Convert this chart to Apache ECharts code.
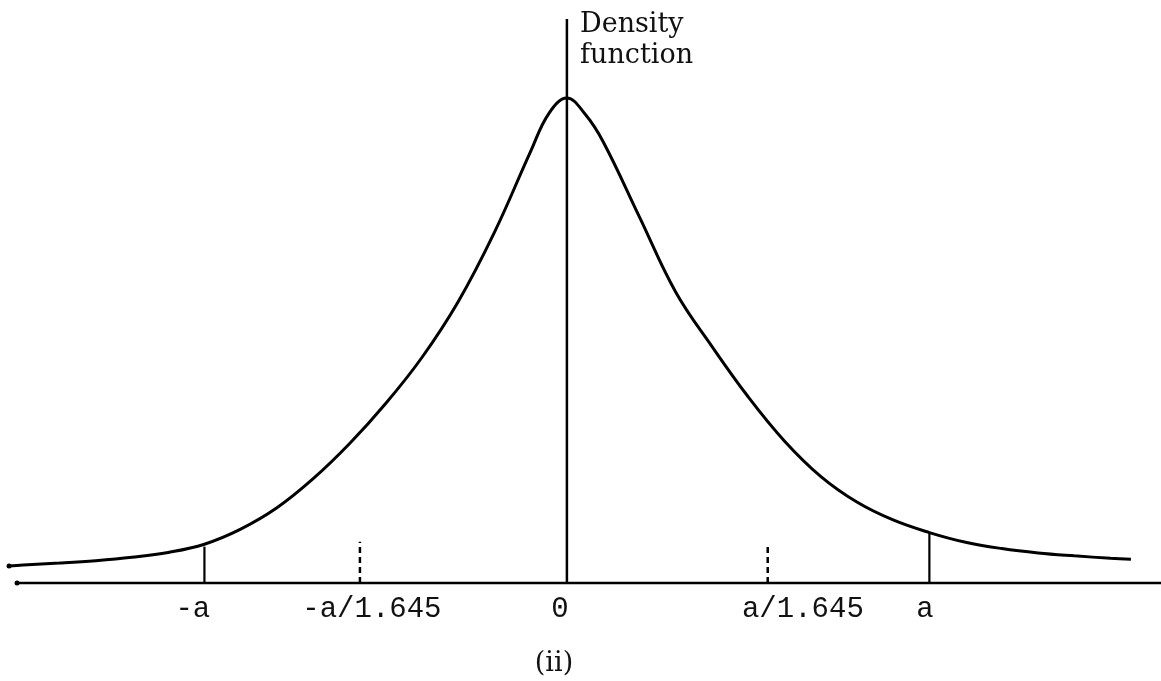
<!DOCTYPE html>
<html>
<head>
<meta charset="utf-8">
<script src="https://cdn.jsdelivr.net/npm/echarts@6/dist/echarts.min.js"></script>
<style>
html,body{margin:0;padding:0;background:#fff;}
#chart{width:1161px;height:681px;}
</style>
</head>
<body>
<div id="chart"></div>
<script>
// x in units of a, y in relative density (peak = 1)
var curveX = [-1.539, -1.5, -1.4, -1.3, -1.2, -1.1, -1.0, -0.9, -0.8, -0.7, -0.6, -0.5, -0.4, -0.3, -0.2, -0.1, -0.05, 0, 0.05, 0.1, 0.2, 0.3, 0.4, 0.5, 0.6, 0.7, 0.8, 0.9, 1.0, 1.1, 1.2, 1.3, 1.4, 1.5, 1.556];
var curveY = [0.035, 0.037, 0.041, 0.046, 0.053, 0.063, 0.080, 0.111, 0.155, 0.215, 0.287, 0.370, 0.465, 0.580, 0.723, 0.890, 0.968, 1.000, 0.967, 0.910, 0.755, 0.600, 0.488, 0.384, 0.293, 0.220, 0.167, 0.130, 0.104, 0.084, 0.071, 0.062, 0.056, 0.051, 0.049];

var solidTickX = [-1.0, 1.0];
var solidTickTop = [0.075, 0.103];
var dashTickX = [-0.571, 0.554];
var dashTickTop = [0.085, 0.076];

var tickLabelX = [-1.032, -0.538, -0.019, 0.651, 0.988];
var tickLabels = ['-a', '-a/1.645', '0', 'a/1.645', 'a'];

var baselineX = [-1.517, 1.639];
var verticalAxisTop = 1.163;

var xMin = -1.564, xMax = 1.639, yMax = 1.163;

var chart = echarts.init(document.getElementById('chart'), null, {renderer: 'canvas'});

var curveData = curveX.map(function (x, i) { return [x, curveY[i]]; });

var series = [];
series.push({
  type: 'line',
  data: curveData,
  smooth: 0.4,
  symbol: 'circle',
  showSymbol: true,
  symbolSize: function (v, p) { return p.dataIndex === 0 ? 5 : 0; },
  itemStyle: {color: '#000'},
  lineStyle: {color: '#000', width: 3},
  silent: true,
  z: 5
});
series.push({
  type: 'line',
  data: [[baselineX[0], 0], [baselineX[1], 0]],
  symbol: 'circle',
  showSymbol: true,
  symbolSize: function (v, p) { return p.dataIndex === 0 ? 5 : 0; },
  itemStyle: {color: '#000'},
  lineStyle: {color: '#000', width: 2.5},
  clip: false,
  silent: true
});
series.push({
  type: 'line',
  data: [[0, 0], [0, verticalAxisTop]],
  showSymbol: false,
  lineStyle: {color: '#000', width: 2.5},
  clip: false,
  silent: true
});
solidTickX.forEach(function (x, i) {
  series.push({
    type: 'line',
    data: [[x, 0], [x, solidTickTop[i]]],
    showSymbol: false,
    lineStyle: {color: '#000', width: 2.2},
    silent: true
  });
});
dashTickX.forEach(function (x, i) {
  series.push({
    type: 'line',
    data: [[x, 0], [x, dashTickTop[i]]],
    showSymbol: false,
    lineStyle: {color: '#000', width: 2.5, type: [6, 4]},
    silent: true
  });
});

var option = {
  backgroundColor: '#fff',
  animation: false,
  grid: {left: 0, right: 0, top: 19, bottom: 98, containLabel: false},
  xAxis: {
    type: 'value',
    min: xMin,
    max: xMax,
    axisLine: {show: false},
    axisTick: {show: false},
    splitLine: {show: false},
    axisLabel: {
      customValues: tickLabelX,
      hideOverlap: false,
      showMinLabel: true,
      showMaxLabel: true,
      margin: 12,
      color: '#111',
      fontFamily: 'Liberation Mono',
      fontSize: 29,
      formatter: function (v) {
        var k = tickLabelX.indexOf(v);
        return k >= 0 ? tickLabels[k] : '';
      }
    }
  },
  yAxis: {
    type: 'value',
    min: 0,
    max: yMax,
    show: false,
    splitLine: {show: false}
  },
  graphic: [
    {
      type: 'text',
      left: 580,
      top: 9,
      style: {
        text: 'Density\nfunction',
        fill: '#111',
        font: '27px "DejaVu Serif"',
        lineHeight: 31
      }
    },
    {
      type: 'text',
      x: 554,
      y: 664,
      style: {
        text: '(ii)',
        fill: '#111',
        font: '27px "DejaVu Serif"',
        align: 'center',
        verticalAlign: 'middle',
        textAlign: 'center',
        textVerticalAlign: 'middle'
      }
    }
  ],
  series: series
};
chart.setOption(option);
</script>
</body>
</html>
